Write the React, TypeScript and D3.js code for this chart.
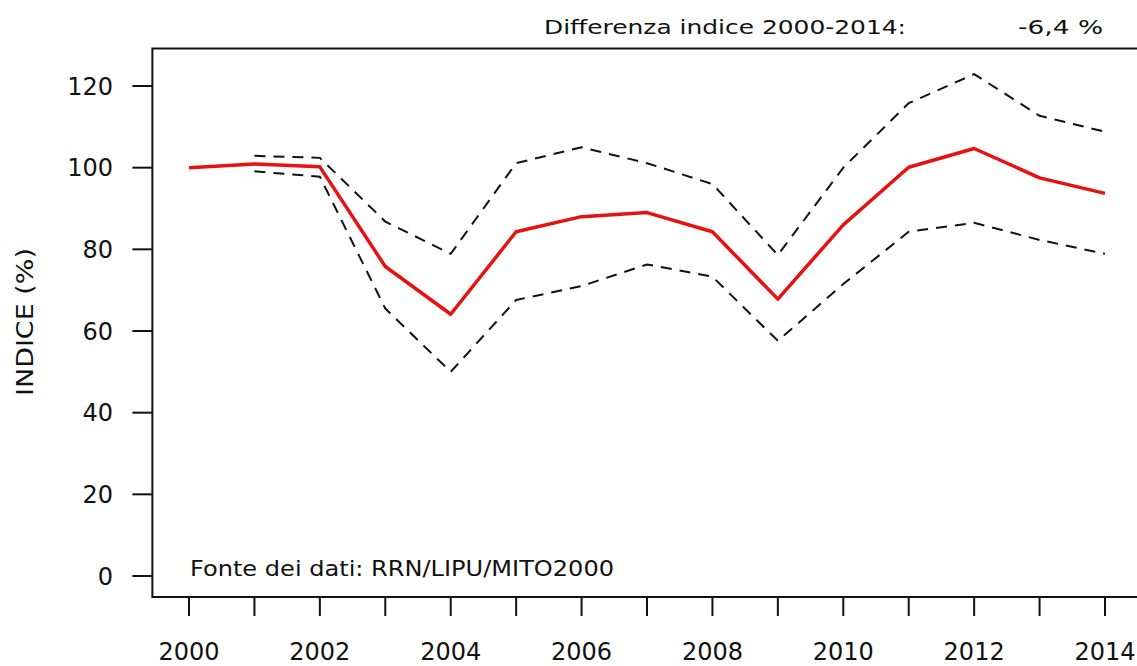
import React, { useRef, useEffect } from "react";
import * as d3 from "d3";

const WIDTH = 1137;
const HEIGHT = 666;
const FONT = "'DejaVu Sans', Verdana, sans-serif";

// index series with its confidence band (band starts in 2001)
const YEARS = [2000, 2001, 2002, 2003, 2004, 2005, 2006, 2007, 2008, 2009, 2010, 2011, 2012, 2013, 2014];
const INDEX = [100, 100.9, 100.2, 75.8, 64.1, 84.3, 88.0, 89.0, 84.3, 67.8, 86.0, 100.1, 104.7, 97.5, 93.7];
const UPPER = [null, 102.9, 102.4, 86.8, 78.9, 101.1, 105.0, 101.1, 96.0, 78.6, 100.0, 115.8, 122.9, 112.7, 108.8];
const LOWER = [null, 99.1, 97.8, 65.5, 50.0, 67.6, 71.0, 76.3, 73.3, 57.6, 71.5, 84.3, 86.5, 82.3, 78.9];
const Y_TICKS = [0, 20, 40, 60, 80, 100, 120];
const X_LABELS = [2000, 2002, 2004, 2006, 2008, 2010, 2012, 2014];

export default function App() {
  const svgRef = useRef<SVGSVGElement>(null);

  useEffect(() => {
    const svg = d3.select(svgRef.current);
    svg.selectAll("*").remove();

    // R-style 4% padding on x; right edge runs past the window
    const x = d3.scaleLinear().domain([2000, 2014]).range([189, 1105]);
    const y = d3.scaleLinear().domain([0, 120]).range([576, 86]);
    const left = x(2000 - 0.56);
    const right = x(2014 + 0.56);
    const top = 48.5;
    const bottom = 597;

    // plot frame (left, top, bottom)
    svg.append("path")
      .attr("d", `M${right},${top}H${left}V${bottom}H${right}`)
      .attr("fill", "none")
      .attr("stroke", "#111")
      .attr("stroke-width", 2);

    // y axis ticks
    Y_TICKS.forEach((t) => {
      svg.append("line")
        .attr("x1", left - 20).attr("x2", left)
        .attr("y1", y(t)).attr("y2", y(t))
        .attr("stroke", "#111").attr("stroke-width", 2);
      svg.append("text")
        .attr("x", 113).attr("y", y(t))
        .attr("dy", "0.36em")
        .attr("text-anchor", "end")
        .attr("font-family", FONT).attr("font-size", 24)
        .attr("fill", "#111")
        .text(t);
    });

    // x axis ticks (every year), labels every second year
    YEARS.forEach((yr) => {
      svg.append("line")
        .attr("x1", x(yr)).attr("x2", x(yr))
        .attr("y1", bottom).attr("y2", bottom + 19)
        .attr("stroke", "#111").attr("stroke-width", 2);
    });
    X_LABELS.forEach((yr) => {
      svg.append("text")
        .attr("x", x(yr)).attr("y", 660)
        .attr("text-anchor", "middle")
        .attr("font-family", FONT).attr("font-size", 24)
        .attr("fill", "#111")
        .text(yr);
    });

    // y axis title (reference font is wider, so stretch to its length)
    svg.append("text")
      .attr("transform", `translate(33,322) rotate(-90)`)
      .attr("x", -74)
      .attr("font-family", FONT).attr("font-size", 23)
      .attr("textLength", 148)
      .attr("lengthAdjust", "spacingAndGlyphs")
      .attr("fill", "#111")
      .text("INDICE (%)");

    // confidence band lines
    const band = d3.line<number | null>()
      .defined((d) => d !== null)
      .x((_, i) => x(YEARS[i]))
      .y((d) => y(d as number));
    [UPPER, LOWER].forEach((s) => {
      svg.append("path")
        .attr("d", band(s))
        .attr("fill", "none")
        .attr("stroke", "#111")
        .attr("stroke-width", 2)
        .attr("stroke-dasharray", "11,8");
    });

    // main index line
    const line = d3.line<number>()
      .x((_, i) => x(YEARS[i]))
      .y((d) => y(d));
    svg.append("path")
      .attr("d", line(INDEX))
      .attr("fill", "none")
      .attr("stroke", "#e8110f")
      .attr("stroke-width", 3.5)
      .attr("stroke-linejoin", "round");

    // header texts
    svg.append("text")
      .attr("x", 544).attr("y", 33.5)
      .attr("font-family", FONT).attr("font-size", 19.5)
      .attr("textLength", 362)
      .attr("lengthAdjust", "spacingAndGlyphs")
      .attr("fill", "#111")
      .text("Differenza indice 2000-2014:");
    svg.append("text")
      .attr("x", 1018).attr("y", 33.5)
      .attr("font-family", FONT).attr("font-size", 19.5)
      .attr("textLength", 85)
      .attr("lengthAdjust", "spacingAndGlyphs")
      .attr("fill", "#111")
      .text("-6,4 %");

    // source note
    svg.append("text")
      .attr("x", 190).attr("y", 576)
      .attr("font-family", FONT).attr("font-size", 21)
      .attr("textLength", 424)
      .attr("lengthAdjust", "spacingAndGlyphs")
      .attr("fill", "#111")
      .text("Fonte dei dati: RRN/LIPU/MITO2000");
  }, []);

  return (
    <svg
      ref={svgRef}
      width={WIDTH}
      height={HEIGHT}
      style={{ position: "absolute", left: 0, top: 0, background: "#fff" }}
    />
  );
}
